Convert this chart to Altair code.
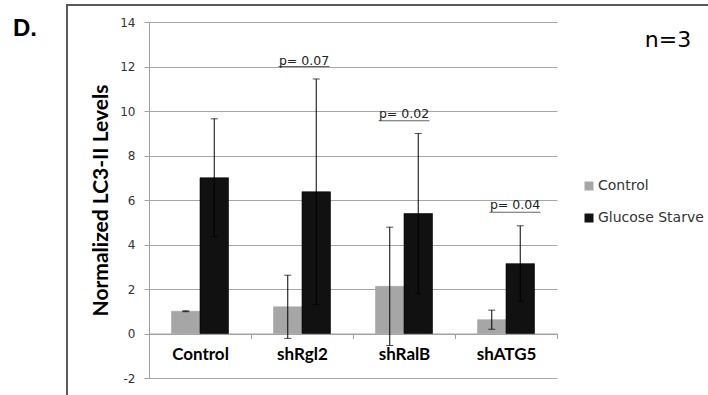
import altair as alt
import pandas as pd

# Knockdown conditions on the x axis
categories = ["Control", "shRgl2", "shRalB", "shATG5"]
groups = ["Control", "Glucose Starve"]

# Normalized LC3-II levels (mean and error) per condition
control_mean = [1.0, 1.2, 2.12, 0.62]
control_err = [0.02, 1.42, 2.66, 0.43]
starve_mean = [7.0, 6.37, 5.39, 3.14]
starve_err = [2.65, 5.07, 3.6, 1.7]

# Significance annotations above the starved bars
p_categories = ["shRgl2", "shRalB", "shATG5"]
p_labels = ["p= 0.07", "p= 0.02", "p= 0.04"]
p_text_y = [12.25, 9.86, 5.77]
p_line_y = [12.0, 9.56, 5.45]
p_shift = [2, 0, 9]

y_ticks = [-2, 0, 2, 4, 6, 8, 10, 12, 14]

rows = []
for i, c in enumerate(categories):
    rows.append({"category": c, "group": groups[0], "mean": control_mean[i], "err": control_err[i]})
    rows.append({"category": c, "group": groups[1], "mean": starve_mean[i], "err": starve_err[i]})
df = pd.DataFrame(rows)

W, H = 408, 356
BOLD_FONT = "Lato"
TEXT_FONT = "DejaVu Sans"

x_enc = alt.X(
    "category:N",
    sort=categories,
    scale=alt.Scale(paddingInner=0, paddingOuter=0),
    axis=alt.Axis(
        title=None,
        orient="bottom",
        offset=-H * 2 / 16,
        tickBand="extent",
        tickSize=5,
        tickColor="#a0a0a0",
        domainColor="#a0a0a0",
        labelFont=BOLD_FONT,
        labelFontSize=17,
        labelFontWeight="bold",
        labelColor="#000000",
        labelPadding=8,
        labelAngle=0,
        grid=False,
    ),
)
xoff_enc = alt.XOffset(
    "group:N",
    sort=groups,
    scale=alt.Scale(paddingInner=0, paddingOuter=0.79),
)
y_scale = alt.Scale(domain=[-2, 14], nice=False, zero=False)

base = alt.Chart(df).transform_calculate(
    lo="datum.mean - datum.err", hi="datum.mean + datum.err"
)

bars = base.mark_bar(strokeWidth=0.6).encode(
    x=x_enc,
    xOffset=xoff_enc,
    y=alt.Y(
        "mean:Q",
        scale=y_scale,
        axis=alt.Axis(
            title="Normalized LC3-II Levels",
            values=y_ticks,
            labelExpr="'' + datum.value",
            grid=True,
            gridColor="#a6a6a6",
            domainColor="#a0a0a0",
            tickColor="#a0a0a0",
            tickSize=5,
            labelFont=TEXT_FONT,
            labelFontSize=12,
            labelColor="#333333",
            labelPadding=9,
            titleFont=BOLD_FONT,
            titleFontSize=21,
            titleFontWeight="bold",
            titleColor="#000000",
            titlePadding=8,
        ),
    ),
    y2=alt.datum(0),
    color=alt.Color(
        "group:N",
        sort=groups,
        scale=alt.Scale(domain=groups, range=["#a6a6a6", "#111111"]),
        legend=alt.Legend(
            title=None,
            orient="none",
            legendX=433,
            legendY=157,
            symbolType="square",
            symbolSize=81,
            symbolStrokeWidth=0,
            labelFont=TEXT_FONT,
            labelFontSize=14,
            labelColor="#333333",
            labelOffset=2,
            rowPadding=18,
            padding=0,
        ),
    ),
    stroke=alt.Stroke(
        "group:N",
        sort=groups,
        scale=alt.Scale(domain=groups, range=["#a6a6a6", "#000000"]),
        legend=None,
    ),
)

err_rule = base.mark_rule(color="#000000", strokeWidth=1).encode(
    x=x_enc, xOffset=xoff_enc, y=alt.Y("lo:Q", scale=y_scale), y2="hi:Q"
)
err_top = base.mark_tick(color="#000000", size=7, thickness=1).encode(
    x=x_enc, xOffset=xoff_enc, y=alt.Y("hi:Q", scale=y_scale)
)
err_bot = base.mark_tick(color="#000000", size=7, thickness=1).encode(
    x=x_enc, xOffset=xoff_enc, y=alt.Y("lo:Q", scale=y_scale)
)

p_layers = []
for c, lab, ty, ly, s in zip(p_categories, p_labels, p_text_y, p_line_y, p_shift):
    pdf = pd.DataFrame({"category": [c], "label": [lab], "ty": [ty], "ly": [ly]})
    p_layers.append(
        alt.Chart(pdf).mark_text(font=TEXT_FONT, fontSize=12.5, color="#222222", dx=s).encode(
            x=alt.X("category:N", sort=categories), y=alt.Y("ty:Q", scale=y_scale), text="label:N"
        )
    )
    p_layers.append(
        alt.Chart(pdf).mark_tick(color="#222222", size=51, thickness=1, xOffset=s).encode(
            x=alt.X("category:N", sort=categories), y=alt.Y("ly:Q", scale=y_scale)
        )
    )

note = pd.DataFrame({"t": ["n=3"]})
n_text = alt.Chart(note).mark_text(
    font=TEXT_FONT, fontSize=22, color="#000000", align="center", baseline="middle"
).encode(x=alt.value(519), y=alt.value(18), text="t:N")

panel = pd.DataFrame({"t": ["D."]})
panel_text = alt.Chart(panel).mark_text(
    font="Liberation Sans", fontSize=24, fontWeight="bold", color="#000000",
    align="center", baseline="middle",
).encode(x=alt.value(-124), y=alt.value(7), text="t:N")

frame = alt.Chart(panel).mark_rect(
    fill=None, fillOpacity=0, stroke="#595959", strokeWidth=2
).encode(x=alt.value(-82), x2=alt.value(575), y=alt.value(-17), y2=alt.value(390))

chart = (
    alt.layer(frame, bars, err_rule, err_top, err_bot, *p_layers, n_text, panel_text)
    .resolve_scale(x="shared", y="shared")
    .properties(
        width=W,
        height=H,
        autosize=alt.AutoSizeParams(type="none"),
        padding={"left": 149, "top": 22, "right": 151, "bottom": 17},
    )
    .configure_view(stroke=None)
    .configure_scale(bandPaddingInner=0)
)

chart.save("out.html", embed_options={"renderer": "svg", "actions": False})
